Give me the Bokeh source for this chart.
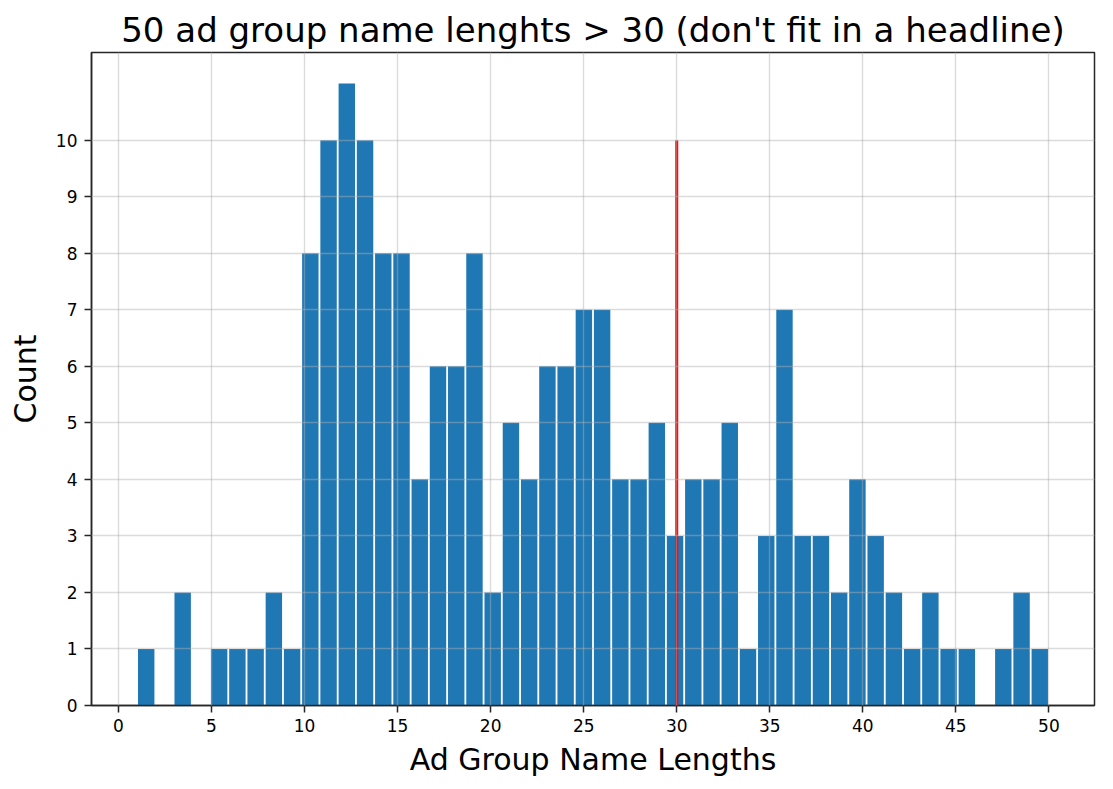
import numpy as np
from bokeh.plotting import figure
from bokeh.models import FixedTicker, Range1d, ColumnDataSource
from bokeh.embed import file_html
from bokeh.resources import INLINE

# Histogram data: 50 bins between min and max name length
name_len_min = 1
name_len_max = 50
counts = [1, 0, 2, 0, 1, 1, 1, 2, 1, 8,
          10, 11, 10, 8, 8, 4, 6, 6, 8, 2,
          5, 4, 6, 6, 7, 7, 4, 4, 5, 3,
          4, 4, 5, 1, 3, 7, 3, 3, 2, 4,
          3, 2, 1, 2, 1, 1, 0, 1, 2, 1]
threshold = 30
threshold_height = 10
x_ticks = [0, 5, 10, 15, 20, 25, 30, 35, 40, 45, 50]
y_ticks = [0, 1, 2, 3, 4, 5, 6, 7, 8, 9, 10]
title_text = "50 ad group name lenghts > 30 (don't fit in a headline)"

edges = np.linspace(name_len_min, name_len_max, len(counts) + 1)
centers = (edges[:-1] + edges[1:]) / 2
bin_w = edges[1] - edges[0]
rwidth = 0.9

span = name_len_max - name_len_min
ymax = max(counts)

p = figure(width=1113, height=789, output_backend="svg", toolbar_location=None,
           x_range=Range1d(name_len_min - 0.05 * span, name_len_max + 0.05 * span),
           y_range=Range1d(0, ymax * 1.05),
           min_border_left=91, min_border_right=19, min_border_top=52, min_border_bottom=84)
p.frame_width = 1003
p.frame_height = 653

src = ColumnDataSource(dict(x=centers, top=counts))
p.vbar(x="x", top="top", bottom=0, width=bin_w * rwidth, source=src,
       fill_color="#1f77b4", line_color=None)

p.title.text = title_text
p.title.text_font = "DejaVu Sans"
p.title.text_font_size = "34px"
p.title.text_font_style = "normal"
p.title.align = "center"
p.title.text_color = "black"
p.title.standoff = 5

p.outline_line_color = "#262626"
p.outline_line_width = 1.5
p.outline_line_alpha = 1

for ax in (p.xaxis[0], p.yaxis[0]):
    ax.axis_line_color = "#262626"
    ax.axis_line_width = 1.5
    ax.major_tick_line_color = "#262626"
    ax.major_tick_line_width = 1.5
    ax.major_tick_out = 7
    ax.major_tick_in = 0
    ax.minor_tick_out = 0
    ax.minor_tick_in = 0
    ax.major_label_text_font = "DejaVu Sans"
    ax.major_label_text_font_size = "17px"
    ax.major_label_text_color = "black"
    ax.axis_label_text_font = "DejaVu Sans"
    ax.axis_label_text_font_size = "30px"
    ax.axis_label_text_font_style = "normal"
    ax.axis_label_text_color = "black"

p.xaxis.ticker = FixedTicker(ticks=x_ticks)
p.yaxis.ticker = FixedTicker(ticks=y_ticks)
p.xaxis.axis_label = "Ad Group Name Lengths"
p.yaxis.axis_label = "Count"
p.xaxis.major_label_standoff = 6
p.yaxis.major_label_standoff = 7
p.xaxis.axis_label_standoff = 7
p.yaxis.axis_label_standoff = 10

for g in (p.xgrid[0], p.ygrid[0]):
    g.grid_line_color = "#b0b0b0"
    g.grid_line_alpha = 0.45
    g.grid_line_width = 1.4
    g.level = "overlay"
p.xgrid.ticker = FixedTicker(ticks=x_ticks)
p.ygrid.ticker = FixedTicker(ticks=y_ticks)

# threshold line drawn on top of the grid
thr = p.segment(x0=[threshold], y0=[0], x1=[threshold], y1=[threshold_height],
                line_color="#ff0000", line_width=3)
thr.level = "overlay"

open("out.html", "w").write(file_html(p, INLINE))
